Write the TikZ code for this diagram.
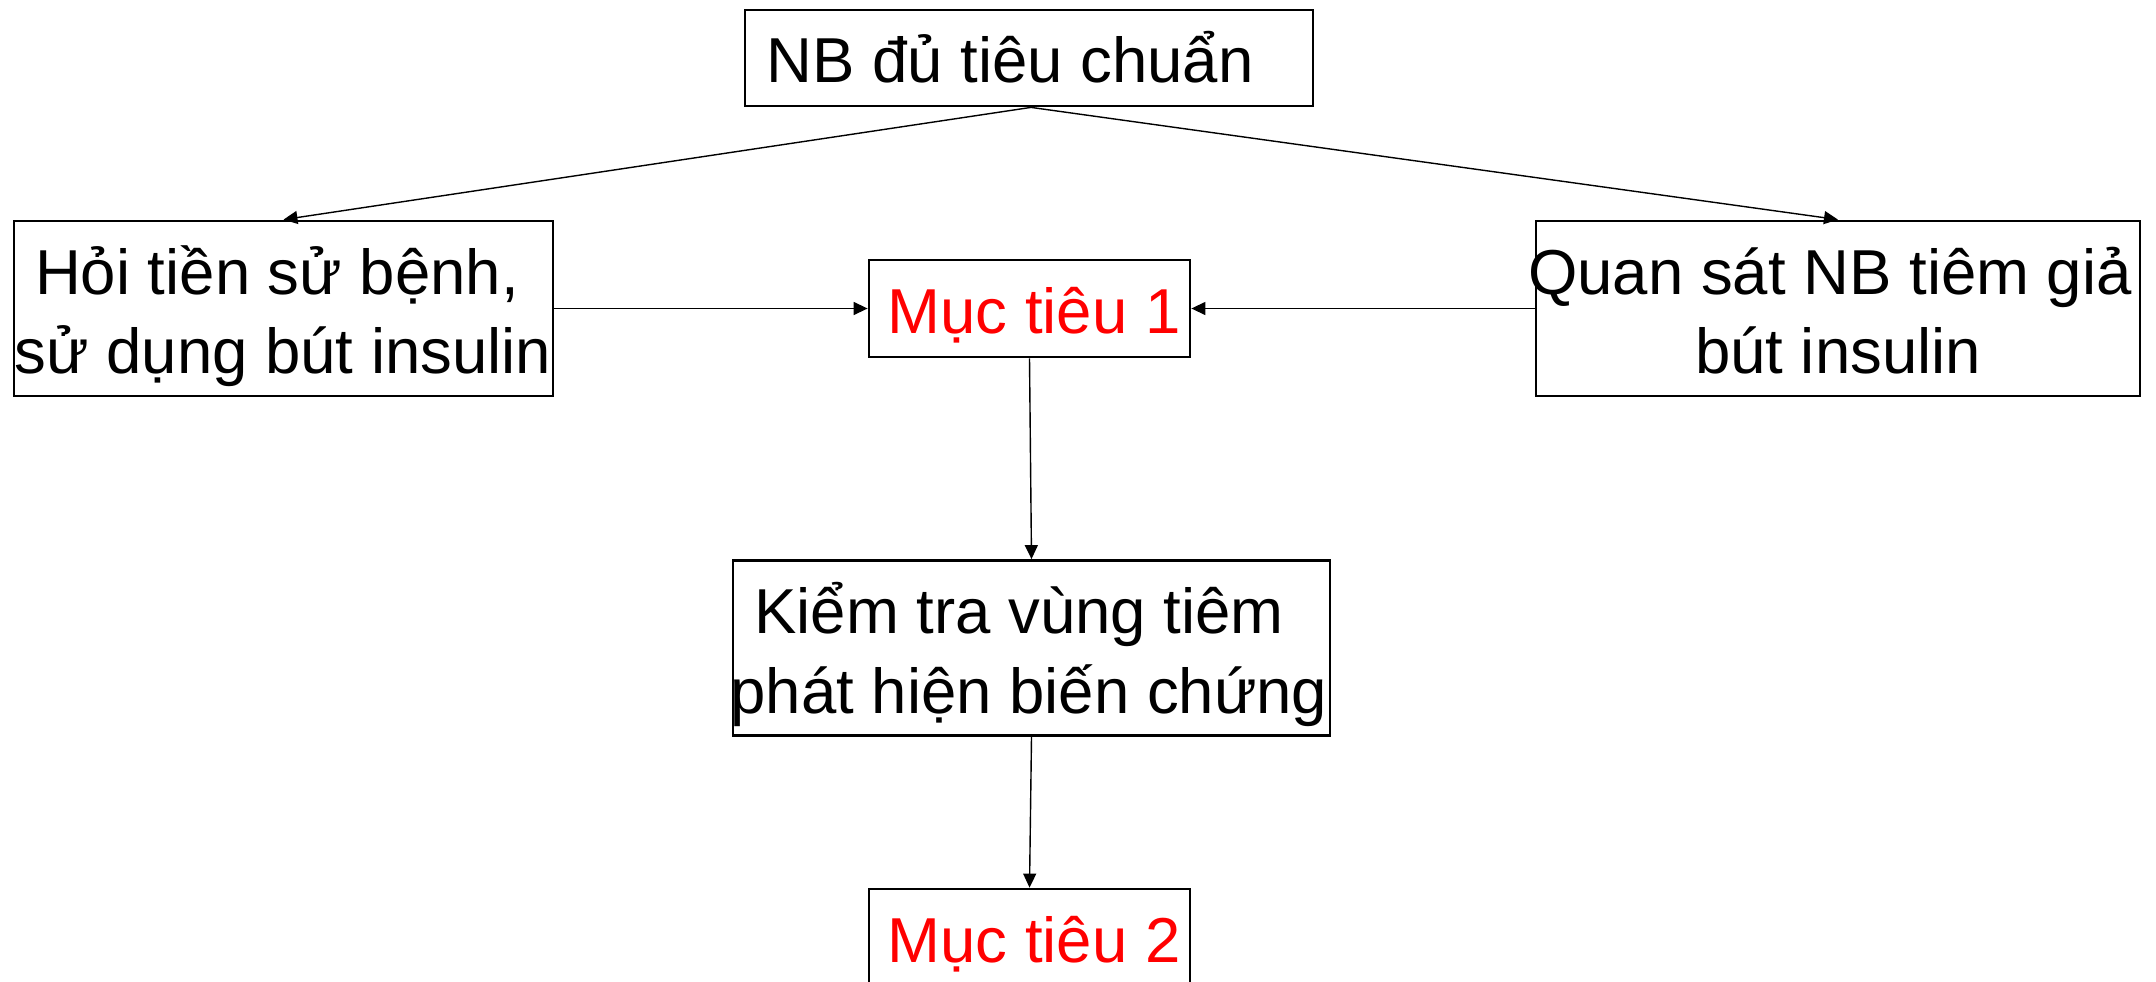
\documentclass[tikz,border=0pt]{standalone}
\usepackage{fontspec}
\setmainfont{Liberation Sans}
\usetikzlibrary{arrows.meta}

\tikzset{
  box/.style={draw=black, line width=2.8pt, fill=white, inner sep=0pt},
  label txt/.style={inner sep=0pt, anchor=base, font=\fontsize{63.5}{76}\selectfont},
  goal/.style={label txt, text={rgb,255:red,255;green,0;blue,0}},
  link/.style={line width=1.4pt, -{Triangle[length=14pt,width=13pt]}},
}

\begin{document}
\begin{tikzpicture}[x=1pt, y=-1pt]
  \useasboundingbox (0,0) rectangle (2156,982);
  \clip (0,0) rectangle (2156,982);

  % boxes
  \node[box, minimum width=568pt, minimum height=96pt]  (top)   at (1029,58)      {};
  \node[box, minimum width=539pt, minimum height=175pt] (hist)  at (283.5,308.5)  {};
  \node[box, minimum width=321pt, minimum height=97pt]  (goal1) at (1029.5,308.5) {};
  \node[box, minimum width=604pt, minimum height=175pt] (obs)   at (1838,308.5)   {};
  \node[box, minimum width=597pt, minimum height=175pt] (check) at (1031.5,648)   {};
  \node[box, minimum width=321pt, minimum height=97pt]  (goal2) at (1029.5,937.5) {};

  % texts
  \node[label txt] (t-top)  at (1010,82)  {NB đủ tiêu chuẩn};
  \node[label txt] (t-h1)   at (277,294)  {Hỏi tiền sử bệnh,};
  \node[label txt] (t-h2)   at (283,373)  {sử dụng bút insulin};
  \node[goal]      (t-g1)   at (1034,333) {Mục tiêu 1};
  \node[label txt] (t-o1)   at (1830,294) {Quan sát NB tiêm giả};
  \node[label txt] (t-o2)   at (1838,373) {bút insulin};
  \node[label txt] (t-c1)   at (1019,633) {Kiểm tra vùng tiêm};
  \node[label txt] (t-c2)   at (1029,713) {phát hiện biến chứng};
  \node[goal]      (t-g2)   at (1034,962) {Mục tiêu 2};

  % connectors
  \coordinate (apex) at ([xshift=2pt]top.south);
  \draw[link] (apex) -- (hist.north);
  \draw[link] (apex) -- (obs.north);
  \draw[link] (hist.east) -- (goal1.west);
  \draw[link] (obs.west) -- (goal1.east);
  \draw[link] (goal1.south) -- (check.north);
  \draw[link] (check.south) -- (goal2.north);
\end{tikzpicture}
\end{document}
